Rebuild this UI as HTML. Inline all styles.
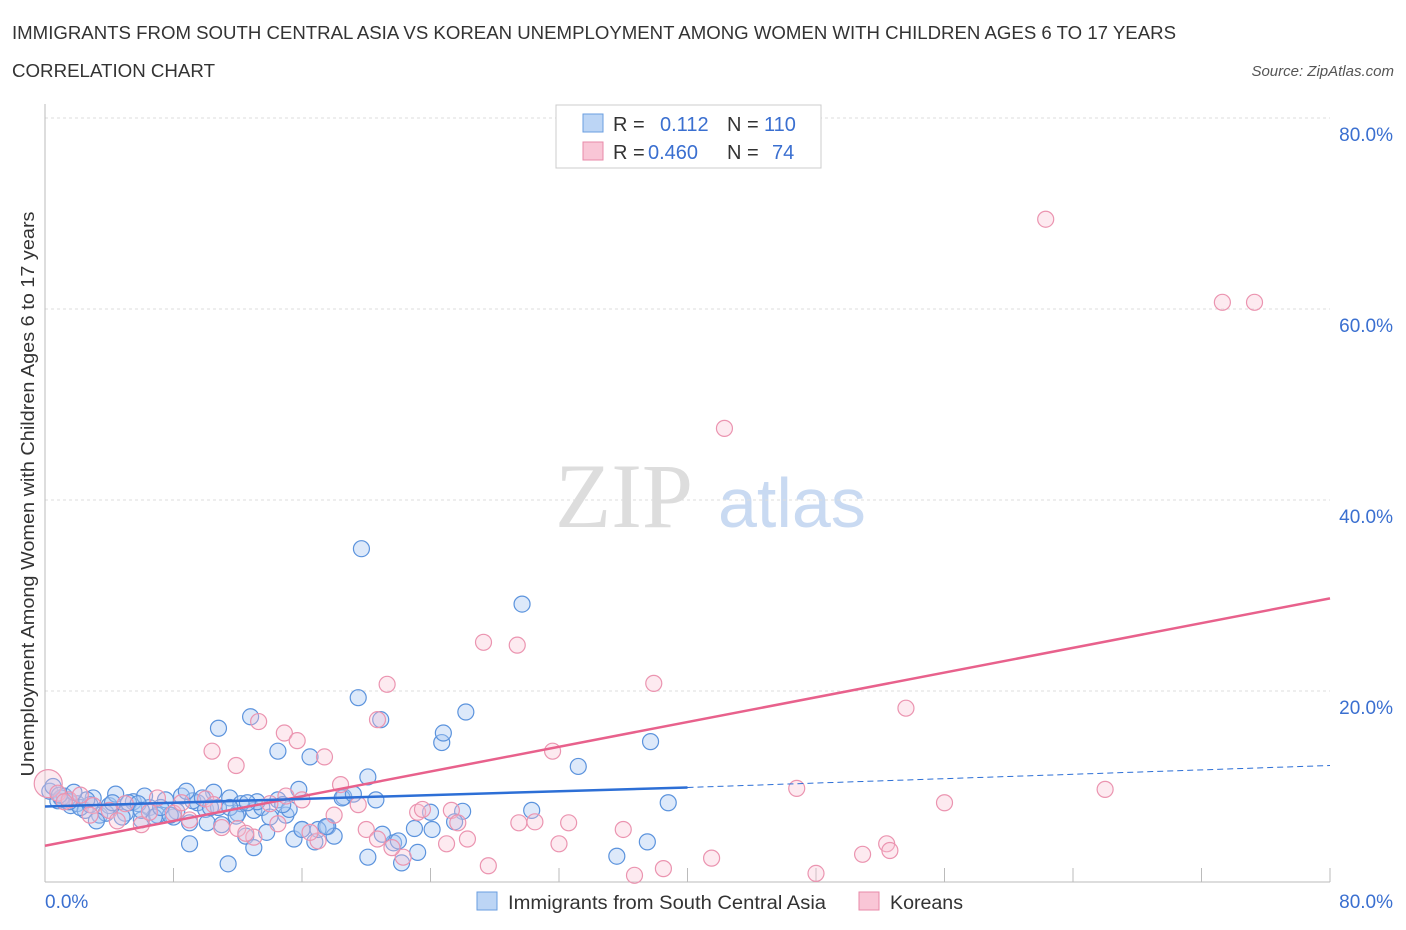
<!DOCTYPE html>
<html><head><meta charset="utf-8"><style>
body{margin:0;background:#fff;font-family:"Liberation Sans",sans-serif}
</style></head><body>
<svg id="c" width="1406" height="930" xmlns="http://www.w3.org/2000/svg" style="display:block">
<text x="12" y="39" font-size="18" fill="#333" textLength="1164" lengthAdjust="spacingAndGlyphs">IMMIGRANTS FROM SOUTH CENTRAL ASIA VS KOREAN UNEMPLOYMENT AMONG WOMEN WITH CHILDREN AGES 6 TO 17 YEARS</text>
<text x="12" y="77" font-size="18" fill="#333" textLength="203" lengthAdjust="spacingAndGlyphs">CORRELATION CHART</text>
<text x="1394" y="76" font-size="15" fill="#555" text-anchor="end" font-style="italic">Source: ZipAtlas.com</text>
<text x="555" y="527" font-size="92" fill="#ddd" font-family="Liberation Serif,serif">ZIP</text>
<text x="718" y="527" font-size="70" fill="#c9daf2">atlas</text>
<text transform="translate(34,494) rotate(-90)" font-size="18" fill="#333" text-anchor="middle" textLength="565" lengthAdjust="spacingAndGlyphs">Unemployment Among Women with Children Ages 6 to 17 years</text>
<g id="grid"></g><g id="pts"></g><g id="lines"></g>
<g>
<rect x="556" y="105" width="265" height="63" fill="#fff" stroke="#ccc"/>
<rect x="583" y="114" width="20" height="18" fill="#bcd5f5" stroke="#6a9ee0"/>
<rect x="583" y="142" width="20" height="18" fill="#f9c6d6" stroke="#e88aa8"/>
<text x="613" y="131" font-size="20" fill="#333">R = </text><text x="660" y="131" font-size="20" fill="#3a6fd0">0.112</text>
<text x="727" y="131" font-size="20" fill="#333">N = </text><text x="764" y="131" font-size="20" fill="#3a6fd0">110</text>
<text x="613" y="159" font-size="20" fill="#333">R = </text><text x="648" y="159" font-size="20" fill="#3a6fd0">0.460</text>
<text x="727" y="159" font-size="20" fill="#333">N = </text><text x="772" y="159" font-size="20" fill="#3a6fd0">74</text>
</g>
<g>
<rect x="477" y="892" width="20" height="18" fill="#bcd5f5" stroke="#6a9ee0"/>
<text x="508" y="909" font-size="19" fill="#333" textLength="318" lengthAdjust="spacingAndGlyphs">Immigrants from South Central Asia</text>
<rect x="859" y="892" width="20" height="18" fill="#f9c6d6" stroke="#e88aa8"/>
<text x="890" y="909" font-size="19" fill="#333" textLength="73" lengthAdjust="spacingAndGlyphs">Koreans</text>
</g>
</svg>
<script>
const yTicks=[20,40,60,80];
const yTickLabels=["20.0%","40.0%","60.0%","80.0%"];
const xTicks=[0,8,16,24,32,40,48,56,64,72,80];
const blueX=[0.3,0.8,1.2,1.6,2,2.5,3,3.4,4,4.4,5,5.5,6,6.5,7,7.5,8,8.5,9,9.5,10,10.5,11,11.5,12,12.5,13,13.5,14,14.5,15,15.5,16,0.5,1,2.2,3.8,5.2,6.8,8.2,9.2,10.8,12.2,13.8,15.2,16.8,17.6,18.6,19.7,29.7,19.5,20.9,26.2,24.7,24.8,12.8,10.8,14.5,16.5,33.2,37.7,38.8,37.5,35.6,20.1,20.6,18.5,19.2,26,30.3,24,25.5,21.7,22.2,24.1,23.2,20.1,11.4,13,9,10.1,17,18,16,17.5,22,21,23,2.8,4.8,6.2,7.8,11.5,13.2,14.8,1.5,3.2,5.8,7.2,9.8,12.6,15.8,8.8,6,4.2,2.6,1.8,0.9,10.3,11.9];
const blueY=[9.5,8.5,9,8,8.2,7.5,8.8,7,8,9.2,7.2,8.4,6.5,7.8,7,8.6,6.8,9,6.2,8.3,7.6,9.4,6,8.8,7.2,4.8,7.5,7.8,6.8,8.6,7,4.5,5.5,10,8.8,7.8,7.2,8.3,6.8,7.4,8.5,7.8,8.2,5.2,7.6,4.2,5.8,8.9,34.9,29.1,19.3,17,17.8,14.6,15.6,17.3,16.1,13.7,13.1,12.1,14.7,8.3,4.2,2.7,11,8.6,8.8,9.2,7.4,7.5,7.3,6.3,4.1,2,5.5,3.1,2.6,1.9,3.6,4,6.2,5.5,4.8,5.5,5.8,4.3,5,5.6,8.1,6.8,9,7,7.8,8.4,8.1,8.4,6.4,8.2,7.8,8.8,8.3,9.7,9.5,7.5,8.3,8.6,9.4,9.1,7.8,6.9];
const pinkX=[62.3,73.3,75.3,42.3,27.3,29.4,37.9,21.3,53.6,31.6,20.7,13.3,14.9,15.7,10.4,11.9,66,46.8,56,52.4,52.6,50.9,48,41.5,38.5,36.7,36,32.6,32,29.5,27.6,26.3,25.3,25.7,23.2,22.3,21.6,18.4,17.4,20,20.7,0.2,0.8,1.5,2.2,3,4,5,6,7,8,9,10,11,12,13,14,15,16,17,1.2,2.8,4.5,6.5,8.5,10.5,12.5,14.5,16.5,18,19.5,23.5,25,30.5];
const pinkY=[69.4,60.7,60.7,47.5,25.1,24.8,20.8,20.7,18.2,13.7,17,16.8,15.6,14.8,13.7,12.2,9.7,9.8,8.3,4,3.3,2.9,0.9,2.5,1.4,0.7,5.5,6.2,4,6.2,1.7,4.5,7.5,6.2,7.3,2.6,3.6,10.2,13.1,5.5,4.5,10.3,9.3,8.6,9.1,8,7.5,8.2,6,8.8,7.2,6.5,8.7,5.7,5.6,4.7,8.2,9,8.6,4.3,8.4,7,6.4,7.3,8.3,8.1,5.1,6.1,5.2,7,8.1,7.6,4,6.3];
const X=v=>45+v/80*1285, Y=v=>882-v/20*191;
const NS="http://www.w3.org/2000/svg";
function mk(t,a,p){const e=document.createElementNS(NS,t);for(const k in a)e.setAttribute(k,a[k]);p.appendChild(e);return e;}
const g=document.getElementById('grid');
yTicks.forEach((v,i)=>{const l=mk('line',{x1:45,x2:1330,y1:Y(v),y2:Y(v),stroke:'#ddd','stroke-dasharray':'3,3'},g);


const t=mk('text',{x:1393,y:Y(v)+23,'font-size':19,fill:'#3a6fd0','text-anchor':'end'},g);t.textContent=yTickLabels[i];

});
mk('line',{x1:45,x2:45,y1:104,y2:882,stroke:'#bbb'},g);
mk('line',{x1:45,x2:1330,y1:882,y2:882,stroke:'#bbb'},g);
xTicks.forEach(v=>{const l=mk('line',{x1:X(v),x2:X(v),y1:868,y2:882,stroke:'#bbb'},g);

});
[["0.0%",45,'start'],["80.0%",1393,'end']].forEach(a=>{const t=mk('text',{x:a[1],y:908,'font-size':19,fill:'#3a6fd0','text-anchor':a[2]},g);t.textContent=a[0];

});
const p=document.getElementById('pts');
const nb=Math.min(blueX.length,blueY.length), np=Math.min(pinkX.length,pinkY.length);
for(let i=0;i<nb;i++){const c=mk('circle',{cx:X(blueX[i]),cy:Y(blueY[i]),r:8,fill:'rgba(170,200,242,0.4)',stroke:'#5b93dd','stroke-width':1.2},p);

}
for(let i=0;i<np;i++){const c=mk('circle',{cx:X(pinkX[i]),cy:Y(pinkY[i]),r:i==41?14:8,fill:'rgba(248,195,212,0.35)',stroke:'#eb94b0','stroke-width':1.2},p);

}
const L=document.getElementById('lines');
let e=mk('line',{x1:X(0),y1:Y(3.8),x2:X(80),y2:Y(29.7),stroke:'#e8618c','stroke-width':2.5},L);

e=mk('line',{x1:X(0),y1:Y(7.9),x2:X(40),y2:Y(9.9),stroke:'#2d6fd6','stroke-width':2.5},L);

e=mk('line',{x1:X(40),y1:Y(9.9),x2:X(80),y2:Y(12.2),stroke:'#2d6fd6','stroke-width':1,'stroke-dasharray':'6,4'},L);

</script>
</body></html>
